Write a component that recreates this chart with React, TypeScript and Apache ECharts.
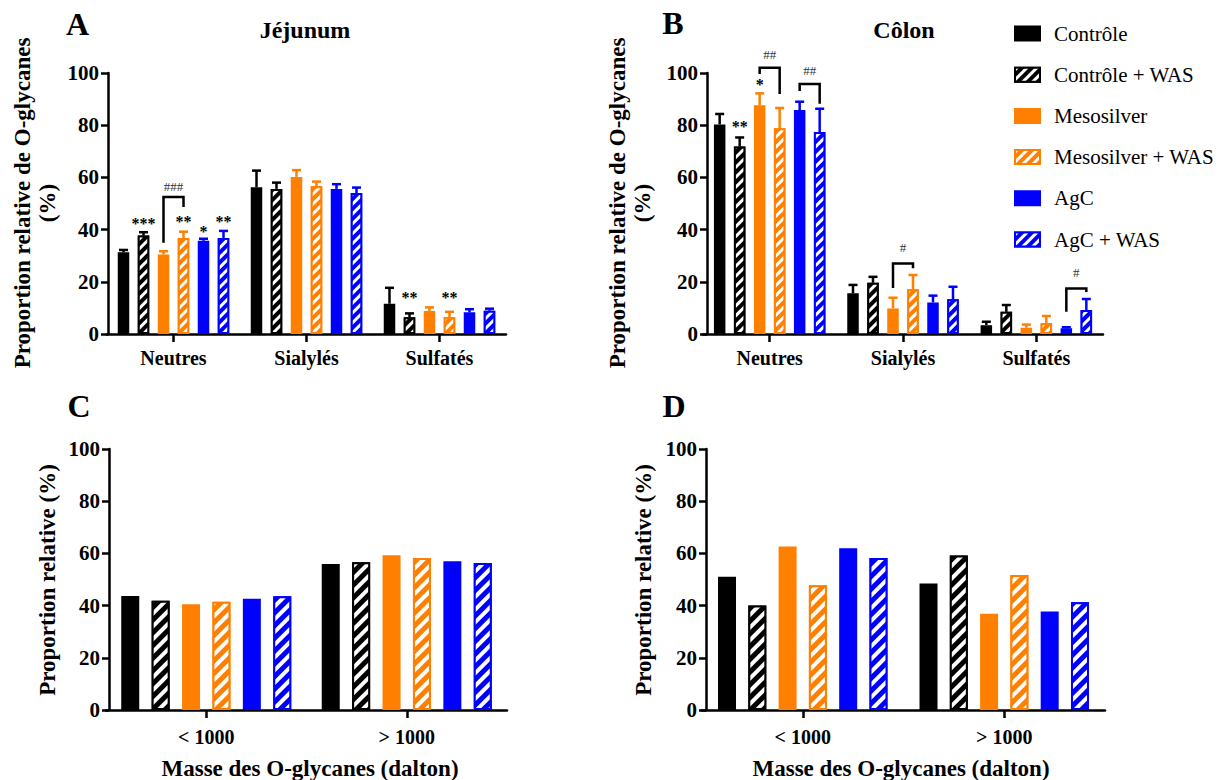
import React, { useEffect, useRef } from 'react';
import * as echarts from 'echarts';

// ---------- data ----------
const GROUPS = ['Contrôle', 'Contrôle + WAS', 'Mesosilver', 'Mesosilver + WAS', 'AgC', 'AgC + WAS'];
const GROUP_COLORS = ['#000000', '#000000', '#FF7F00', '#FF7F00', '#0000FF', '#0000FF'];
const GROUP_HATCHED = [false, true, false, true, false, true];

const TYPE_CATEGORIES = ['Neutres', 'Sialylés', 'Sulfatés'];
const MASS_CATEGORIES = ['< 1000', '> 1000'];

// Panel A – Jéjunum: mean per group, for [Neutres, Sialylés, Sulfatés]
const JEJUNUM_MEAN = [
  [31.3, 56.2, 11.6],
  [37.7, 55.6, 6.4],
  [30.5, 60.2, 8.8],
  [36.8, 56.6, 6.4],
  [35.7, 55.6, 8.3],
  [36.8, 54.0, 8.9],
];
// top of the error bars (mean + SD)
const JEJUNUM_UPPER = [
  [32.2, 62.6, 17.7],
  [39.0, 58.0, 7.9],
  [31.7, 62.8, 10.2],
  [39.2, 58.4, 8.5],
  [36.5, 57.4, 9.5],
  [39.5, 56.1, 9.7],
];

// Panel B – Côlon
const COLON_MEAN = [
  [80.3, 15.6, 3.4],
  [71.8, 19.6, 8.5],
  [87.6, 9.8, 2.4],
  [78.8, 17.1, 4.1],
  [85.8, 12.1, 2.2],
  [77.4, 13.3, 9.2],
];
const COLON_UPPER = [
  [84.3, 18.8, 4.7],
  [75.3, 21.9, 11.1],
  [92.2, 13.9, 3.6],
  [86.6, 22.6, 6.9],
  [89.0, 14.7, 2.6],
  [86.3, 18.1, 13.4],
];

// Panel C – Jéjunum by mass, for [< 1000, > 1000]
const JEJUNUM_MASS = [
  [43.7, 55.9],
  [41.9, 56.6],
  [40.5, 59.3],
  [41.5, 58.2],
  [42.6, 57.0],
  [43.6, 56.3],
];
// Panel D – Côlon by mass
const COLON_MASS = [
  [51.1, 48.5],
  [40.0, 59.2],
  [62.6, 36.9],
  [47.8, 51.7],
  [62.0, 37.7],
  [58.2, 41.3],
];

// significance marks versus control
const JEJUNUM_STARS = [
  { cat: 0, group: 1, value: 42.5, text: '***' },
  { cat: 0, group: 3, value: 43.2, text: '**' },
  { cat: 0, group: 4, value: 39.3, text: '*' },
  { cat: 0, group: 5, value: 43.2, text: '**' },
  { cat: 2, group: 1, value: 13.8, text: '**' },
  { cat: 2, group: 3, value: 13.8, text: '**' },
];
const COLON_STARS = [
  { cat: 0, group: 1, value: 79.5, text: '**' },
  { cat: 0, group: 2, value: 95.6, text: '*' },
];

// WAS effect brackets
const JEJUNUM_BRACKETS = [
  { cat: 0, from: 2, to: 3, top: 52.5, fromEnd: 35.0, toEnd: 48.7, label: '###', labelAt: 56.7 },
];
const COLON_BRACKETS = [
  { cat: 0, from: 2, to: 3, top: 102.0, fromEnd: 99.6, toEnd: 92.0, label: '##', labelAt: 107.2 },
  { cat: 0, from: 4, to: 5, top: 95.8, fromEnd: 93.1, toEnd: 88.2, label: '##', labelAt: 100.9 },
  { cat: 1, from: 2, to: 3, top: 27.0, fromEnd: 17.6, toEnd: 25.2, label: '#', labelAt: 33.2 },
  { cat: 2, from: 4, to: 5, top: 17.4, fromEnd: 8.5, toEnd: 16.1, label: '#', labelAt: 23.7 },
];

// ---------- style ----------
const SERIF = 'Liberation Serif';
const AXIS_W = 2.5;

const PANELS = [
  {
    grid: { left: 107, top: 73, width: 399, height: 261 },
    yOffset: -1, cats: TYPE_CATEGORIES, mean: JEJUNUM_MEAN, upper: JEJUNUM_UPPER,
    stars: JEJUNUM_STARS, brackets: JEJUNUM_BRACKETS, barW: 11.5, pitch: 20, labelMargin: 14,
    hatch: [3, 4],
  },
  {
    grid: { left: 703, top: 73, width: 400, height: 261 },
    yOffset: -4, cats: TYPE_CATEGORIES, mean: COLON_MEAN, upper: COLON_UPPER,
    stars: COLON_STARS, brackets: COLON_BRACKETS, barW: 11.5, pitch: 20, labelMargin: 14,
    hatch: [3, 4],
  },
  {
    grid: { left: 106, top: 449, width: 401, height: 261 },
    yOffset: -3, cats: MASS_CATEGORIES, mean: JEJUNUM_MASS, upper: null,
    stars: [], brackets: [], barW: 18, pitch: 30.4, labelMargin: 17,
    hatch: [4, 5],
  },
  {
    grid: { left: 702, top: 449, width: 403, height: 261 },
    yOffset: -4, cats: MASS_CATEGORIES, mean: COLON_MASS, upper: null,
    stars: [], brackets: [], barW: 18, pitch: 30.3, labelMargin: 17,
    hatch: [4, 5],
  },
];

function buildOption() {
  const grid: any[] = [];
  const xAxis: any[] = [];
  const yAxis: any[] = [];
  const series: any[] = [];

  PANELS.forEach((p, pi) => {
    grid.push({ ...p.grid, containLabel: false });
    xAxis.push({
      type: 'category', gridIndex: pi, data: p.cats,
      axisLine: { show: true, lineStyle: { color: '#000', width: AXIS_W } },
      axisTick: { show: true, alignWithLabel: true, length: 8, lineStyle: { color: '#000', width: AXIS_W } },
      axisLabel: { color: '#000', fontFamily: SERIF, fontWeight: 'bold', fontSize: 20, margin: p.labelMargin, interval: 0 },
      splitLine: { show: false },
    });
    yAxis.push({
      type: 'value', gridIndex: pi, min: 0, max: 100, interval: 20, offset: p.yOffset,
      axisLine: { show: true, lineStyle: { color: '#000', width: AXIS_W } },
      axisTick: { show: true, length: 7, lineStyle: { color: '#000', width: AXIS_W } },
      axisLabel: { color: '#000', fontFamily: SERIF, fontWeight: 'bold', fontSize: 21, margin: 9 },
      splitLine: { show: false },
    });

    const gapPct = ((p.pitch / p.barW - 1) * 100).toFixed(1) + '%';
    GROUPS.forEach((g, gi) => {
      const itemStyle: any = { color: GROUP_COLORS[gi], borderColor: GROUP_COLORS[gi], borderWidth: 2 };
      if (GROUP_HATCHED[gi]) {
        itemStyle.decal = {
          symbol: 'rect', symbolSize: 1, color: '#ffffff',
          dashArrayX: [1, 0], dashArrayY: p.hatch, rotation: -Math.PI / 4,
        };
      }
      series.push({
        type: 'bar', name: g, xAxisIndex: pi, yAxisIndex: pi,
        data: p.mean[gi], barWidth: p.barW, barGap: gapPct,
        itemStyle, emphasis: { disabled: true }, z: 2,
      });
    });

    const pitch = p.pitch;
    if (p.upper) {
      const errData: any[] = [];
      GROUPS.forEach((_, gi) => {
        p.cats.forEach((__, ci) => errData.push([ci, gi, p.mean[gi][ci], p.upper![gi][ci]]));
      });
      series.push({
        type: 'custom', name: 'err' + pi, xAxisIndex: pi, yAxisIndex: pi, z: 3,
        encode: { x: 0, y: 3 }, data: errData, silent: true,
        renderItem: (params: any, api: any) => {
          const c = api.value(0), g = api.value(1);
          const b = api.coord([c, api.value(2)]);
          const t = api.coord([c, api.value(3)]);
          const x = b[0] + (g - 2.5) * pitch;
          const color = GROUP_COLORS[g];
          return {
            type: 'group', children: [
              { type: 'line', shape: { x1: x, y1: b[1], x2: x, y2: t[1] }, style: { stroke: color, lineWidth: 2.5 } },
              { type: 'line', shape: { x1: x - 4.5, y1: t[1], x2: x + 4.5, y2: t[1] }, style: { stroke: color, lineWidth: 2.5 } },
            ],
          };
        },
      });
    }
    if (p.stars.length) {
      const stars = p.stars;
      series.push({
        type: 'custom', name: 'stars' + pi, xAxisIndex: pi, yAxisIndex: pi, z: 4,
        encode: { x: 0, y: 2 }, silent: true,
        data: stars.map((s) => [s.cat, s.group, s.value]),
        renderItem: (params: any, api: any) => {
          const pt = api.coord([api.value(0), api.value(2)]);
          const x = pt[0] + (api.value(1) - 2.5) * pitch;
          return {
            type: 'text', x, y: pt[1],
            style: {
              text: stars[params.dataIndex].text, fill: '#000', fontFamily: SERIF, fontWeight: 'bold',
              fontSize: 16, align: 'center', verticalAlign: 'middle',
            },
          };
        },
      });
    }
    if (p.brackets.length) {
      const br = p.brackets;
      series.push({
        type: 'custom', name: 'brackets' + pi, xAxisIndex: pi, yAxisIndex: pi, z: 4,
        encode: { x: 0, y: 3 }, silent: true,
        data: br.map((b) => [b.cat, b.from, b.to, b.top, b.fromEnd, b.toEnd, b.labelAt]),
        renderItem: (params: any, api: any) => {
          const c = api.value(0);
          const top = api.coord([c, api.value(3)]);
          const fe = api.coord([c, api.value(4)]);
          const te = api.coord([c, api.value(5)]);
          const la = api.coord([c, api.value(6)]);
          const xf = top[0] + (api.value(1) - 2.5) * pitch;
          const xt = top[0] + (api.value(2) - 2.5) * pitch;
          return {
            type: 'group', children: [
              {
                type: 'polyline',
                shape: { points: [[xf, fe[1]], [xf, top[1]], [xt, top[1]], [xt, te[1]]] },
                style: { stroke: '#000', lineWidth: 2.5, fill: null },
              },
              {
                type: 'text', x: (xf + xt) / 2, y: la[1],
                style: {
                  text: br[params.dataIndex].label, fill: '#333', fontFamily: SERIF,
                  fontSize: 13, align: 'center', verticalAlign: 'middle',
                },
              },
            ],
          };
        },
      });
    }
  });

  const txt = (text: string, x: number, y: number, size: number, extra: any = {}) => ({
    type: 'text', x, y, silent: true, ...extra,
    style: {
      text, fill: '#000', fontFamily: SERIF, fontWeight: 'bold', fontSize: size,
      align: 'center', verticalAlign: 'middle', lineHeight: 25.5,
    },
  });

  const graphic = [
    txt('A', 77.5, 24, 32),
    txt('B', 673, 23, 32),
    txt('C', 79, 406, 32),
    txt('D', 674, 406, 32),
    txt('Jéjunum', 305, 30, 24),
    txt('Côlon', 904, 30, 24),
    txt('Proportion relative de O-glycanes\n(%)', 35, 203, 23, { rotation: Math.PI / 2 }),
    txt('Proportion relative de O-glycanes\n(%)', 630, 203, 23, { rotation: Math.PI / 2 }),
    txt('Proportion relative (%)', 47, 580, 23, { rotation: Math.PI / 2 }),
    txt('Proportion relative (%)', 643, 580, 23, { rotation: Math.PI / 2 }),
    txt('Masse des O-glycanes (dalton)', 310, 768, 23),
    txt('Masse des O-glycanes (dalton)', 901, 768, 23),
  ];

  return {
    animation: false,
    backgroundColor: '#ffffff',
    grid, xAxis, yAxis, series, graphic,
    legend: {
      data: GROUPS, orient: 'vertical', left: 1014, top: 23, icon: 'rect',
      itemWidth: 25, itemHeight: 14, itemGap: 20.2, padding: 0,
      selectedMode: false,
      textStyle: { color: '#000', fontFamily: SERIF, fontSize: 21, padding: [0, 0, 0, 9] },
    },
  };
}

export default function App() {
  const ref = useRef<HTMLDivElement>(null);
  useEffect(() => {
    if (!ref.current) return;
    const chart = echarts.init(ref.current, undefined, { renderer: 'svg' });
    chart.setOption(buildOption() as any);
    return () => chart.dispose();
  }, []);
  return (
    <div
      ref={ref}
      style={{ position: 'absolute', left: 0, top: 0, width: 1232, height: 780, background: '#fff' }}
    />
  );
}
